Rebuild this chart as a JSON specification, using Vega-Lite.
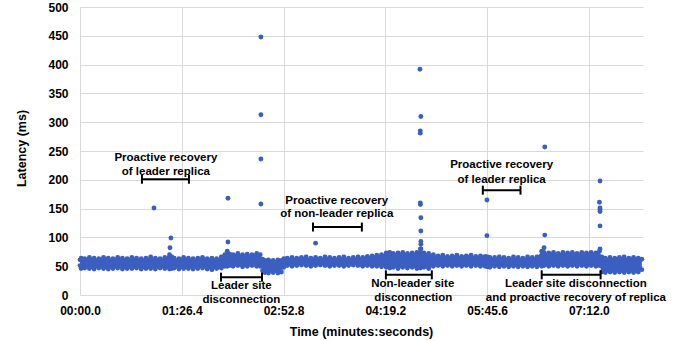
{
  "$schema": "https://vega.github.io/schema/vega-lite/v6.json",
  "autosize": {"type": "none"},
  "padding": {"left": 80, "top": 7, "right": 40, "bottom": 46},
  "width": 563,
  "height": 288,
  "background": "white",
  "config": {
    "view": {"stroke": null},
    "axis": {
      "labelFont": "Liberation Sans",
      "labelFontWeight": "bold",
      "labelFontSize": 12,
      "labelColor": "#000000",
      "labelOverlap": false,
      "labelFlush": false,
      "titleFont": "Liberation Sans",
      "titleFontWeight": "bold",
      "titleFontSize": 12.5,
      "titleColor": "#000000",
      "domain": false,
      "ticks": false,
      "tickSize": 0,
      "grid": true,
      "gridColor": "#d9d9d9",
      "gridWidth": 1
    }
  },
  "datasets": {
    "band": [
      {"t": 0, "hi": 61, "lo": 51},
      {"t": 1, "hi": 64, "lo": 46},
      {"t": 4, "hi": 63, "lo": 47},
      {"t": 8, "hi": 65, "lo": 46},
      {"t": 12, "hi": 64, "lo": 45},
      {"t": 16, "hi": 63, "lo": 47},
      {"t": 20, "hi": 65, "lo": 46},
      {"t": 24, "hi": 64, "lo": 45},
      {"t": 28, "hi": 63, "lo": 46},
      {"t": 32, "hi": 65, "lo": 47},
      {"t": 36, "hi": 64, "lo": 45},
      {"t": 40, "hi": 63, "lo": 46},
      {"t": 44, "hi": 65, "lo": 46},
      {"t": 48, "hi": 64, "lo": 47},
      {"t": 52, "hi": 63, "lo": 45},
      {"t": 56, "hi": 64, "lo": 46},
      {"t": 60, "hi": 66, "lo": 46},
      {"t": 64, "hi": 64, "lo": 45},
      {"t": 68, "hi": 63, "lo": 47},
      {"t": 72, "hi": 65, "lo": 46},
      {"t": 76, "hi": 70, "lo": 45},
      {"t": 78, "hi": 66, "lo": 46},
      {"t": 80, "hi": 64, "lo": 47},
      {"t": 84, "hi": 63, "lo": 45},
      {"t": 88, "hi": 65, "lo": 46},
      {"t": 92, "hi": 64, "lo": 46},
      {"t": 96, "hi": 63, "lo": 45},
      {"t": 100, "hi": 64, "lo": 46},
      {"t": 104, "hi": 65, "lo": 47},
      {"t": 108, "hi": 63, "lo": 45},
      {"t": 112, "hi": 64, "lo": 44},
      {"t": 116, "hi": 63, "lo": 46},
      {"t": 120, "hi": 66, "lo": 47},
      {"t": 123, "hi": 70, "lo": 50},
      {"t": 125, "hi": 76, "lo": 50},
      {"t": 127, "hi": 71, "lo": 51},
      {"t": 130, "hi": 70, "lo": 50},
      {"t": 134, "hi": 72, "lo": 51},
      {"t": 138, "hi": 70, "lo": 49},
      {"t": 142, "hi": 71, "lo": 50},
      {"t": 146, "hi": 70, "lo": 51},
      {"t": 150, "hi": 72, "lo": 50},
      {"t": 153, "hi": 70, "lo": 50},
      {"t": 155, "hi": 62, "lo": 42},
      {"t": 157, "hi": 60, "lo": 39},
      {"t": 160, "hi": 61, "lo": 38},
      {"t": 164, "hi": 60, "lo": 39},
      {"t": 168, "hi": 61, "lo": 38},
      {"t": 171, "hi": 60, "lo": 40},
      {"t": 173, "hi": 63, "lo": 48},
      {"t": 176, "hi": 64, "lo": 51},
      {"t": 180, "hi": 65, "lo": 50},
      {"t": 184, "hi": 64, "lo": 51},
      {"t": 188, "hi": 65, "lo": 52},
      {"t": 192, "hi": 66, "lo": 51},
      {"t": 196, "hi": 64, "lo": 50},
      {"t": 200, "hi": 65, "lo": 51},
      {"t": 204, "hi": 64, "lo": 52},
      {"t": 208, "hi": 66, "lo": 51},
      {"t": 212, "hi": 65, "lo": 50},
      {"t": 216, "hi": 64, "lo": 51},
      {"t": 220, "hi": 65, "lo": 51},
      {"t": 224, "hi": 66, "lo": 50},
      {"t": 228, "hi": 64, "lo": 51},
      {"t": 232, "hi": 65, "lo": 52},
      {"t": 236, "hi": 66, "lo": 51},
      {"t": 240, "hi": 65, "lo": 50},
      {"t": 244, "hi": 67, "lo": 51},
      {"t": 248, "hi": 68, "lo": 50},
      {"t": 252, "hi": 69, "lo": 50},
      {"t": 256, "hi": 70, "lo": 49},
      {"t": 260, "hi": 73, "lo": 48},
      {"t": 263, "hi": 74, "lo": 47},
      {"t": 266, "hi": 72, "lo": 48},
      {"t": 270, "hi": 73, "lo": 46},
      {"t": 274, "hi": 74, "lo": 48},
      {"t": 278, "hi": 72, "lo": 47},
      {"t": 282, "hi": 73, "lo": 48},
      {"t": 286, "hi": 74, "lo": 46},
      {"t": 289, "hi": 80, "lo": 47},
      {"t": 292, "hi": 73, "lo": 48},
      {"t": 296, "hi": 72, "lo": 46},
      {"t": 300, "hi": 70, "lo": 50},
      {"t": 304, "hi": 68, "lo": 51},
      {"t": 308, "hi": 69, "lo": 50},
      {"t": 312, "hi": 67, "lo": 51},
      {"t": 316, "hi": 68, "lo": 50},
      {"t": 320, "hi": 69, "lo": 51},
      {"t": 324, "hi": 67, "lo": 50},
      {"t": 328, "hi": 68, "lo": 51},
      {"t": 332, "hi": 69, "lo": 50},
      {"t": 336, "hi": 67, "lo": 51},
      {"t": 340, "hi": 68, "lo": 50},
      {"t": 344, "hi": 67, "lo": 50},
      {"t": 346, "hi": 66, "lo": 49},
      {"t": 348, "hi": 65, "lo": 48},
      {"t": 352, "hi": 65, "lo": 50},
      {"t": 356, "hi": 66, "lo": 49},
      {"t": 360, "hi": 65, "lo": 50},
      {"t": 364, "hi": 64, "lo": 49},
      {"t": 368, "hi": 66, "lo": 50},
      {"t": 372, "hi": 65, "lo": 49},
      {"t": 376, "hi": 64, "lo": 50},
      {"t": 380, "hi": 66, "lo": 49},
      {"t": 384, "hi": 65, "lo": 50},
      {"t": 388, "hi": 66, "lo": 49},
      {"t": 392, "hi": 76, "lo": 50},
      {"t": 394, "hi": 74, "lo": 51},
      {"t": 398, "hi": 73, "lo": 50},
      {"t": 402, "hi": 74, "lo": 51},
      {"t": 406, "hi": 72, "lo": 50},
      {"t": 410, "hi": 74, "lo": 51},
      {"t": 414, "hi": 73, "lo": 50},
      {"t": 418, "hi": 74, "lo": 51},
      {"t": 422, "hi": 72, "lo": 50},
      {"t": 426, "hi": 74, "lo": 51},
      {"t": 430, "hi": 73, "lo": 50},
      {"t": 434, "hi": 74, "lo": 51},
      {"t": 438, "hi": 73, "lo": 50},
      {"t": 441, "hi": 76, "lo": 51},
      {"t": 443, "hi": 66, "lo": 40},
      {"t": 446, "hi": 64, "lo": 39},
      {"t": 450, "hi": 65, "lo": 40},
      {"t": 454, "hi": 64, "lo": 39},
      {"t": 458, "hi": 65, "lo": 40},
      {"t": 462, "hi": 66, "lo": 39},
      {"t": 466, "hi": 64, "lo": 40},
      {"t": 470, "hi": 65, "lo": 39},
      {"t": 474, "hi": 64, "lo": 40},
      {"t": 477, "hi": 62, "lo": 44}
    ],
    "pts": [
      {"t": 62.8, "v": 151},
      {"t": 77.2, "v": 99},
      {"t": 76.4, "v": 82},
      {"t": 125.6, "v": 168},
      {"t": 125.6, "v": 92},
      {"t": 153.6, "v": 448},
      {"t": 153.6, "v": 313},
      {"t": 153.6, "v": 236},
      {"t": 153.6, "v": 158},
      {"t": 200, "v": 90},
      {"t": 288.6, "v": 392},
      {"t": 289.4, "v": 310},
      {"t": 288.9, "v": 285},
      {"t": 288.9, "v": 281},
      {"t": 288.9, "v": 160},
      {"t": 289, "v": 157},
      {"t": 289.4, "v": 134},
      {"t": 289.4, "v": 111},
      {"t": 289.4, "v": 93},
      {"t": 289.4, "v": 88},
      {"t": 289.4, "v": 80},
      {"t": 345.5, "v": 165},
      {"t": 345.5, "v": 103},
      {"t": 394.6, "v": 257},
      {"t": 394.6, "v": 104},
      {"t": 394, "v": 82},
      {"t": 441.5, "v": 198},
      {"t": 441, "v": 161},
      {"t": 441.5, "v": 151},
      {"t": 441.5, "v": 148},
      {"t": 441.5, "v": 145},
      {"t": 441.5, "v": 120},
      {"t": 441.5, "v": 80}
    ],
    "ann": [
      {"t": 72.9, "v": 238, "label": "Proactive recovery"},
      {"t": 72.9, "v": 213, "label": "of leader replica"},
      {"t": 137, "v": 16, "label": "Leader site"},
      {"t": 137, "v": -8, "label": "disconnection"},
      {"t": 218, "v": 163, "label": "Proactive recovery"},
      {"t": 218, "v": 140, "label": "of non-leader replica"},
      {"t": 282.5, "v": 19, "label": "Non-leader site"},
      {"t": 283, "v": -5, "label": "disconnection"},
      {"t": 358, "v": 226, "label": "Proactive recovery"},
      {"t": 358, "v": 200, "label": "of leader replica"},
      {"t": 421, "v": 19, "label": "Leader site disconnection"},
      {"t": 421, "v": -5, "label": "and proactive recovery of replica"}
    ],
    "brk": [
      {"t": 52.6, "t2": 92.5, "v": 201},
      {"t": 119.7, "t2": 154.5, "v": 31},
      {"t": 197.8, "t2": 239.3, "v": 118},
      {"t": 259.7, "t2": 298.7, "v": 35},
      {"t": 342, "t2": 374, "v": 182},
      {"t": 392, "t2": 442, "v": 35}
    ]
  },
  "encoding": {
    "x": {"field": "t", "type": "quantitative",
      "scale": {"domain": [0, 478], "nice": false, "zero": false},
      "axis": {
        "values": [0, 86.4, 172.8, 259.2, 345.6, 432],
        "labelPadding": 10,
        "labelExpr": "(floor(datum.value/60) < 10 ? '0' : '') + floor(datum.value/60) + ':' + ((datum.value % 60) < 9.95 ? '0' : '') + format(datum.value % 60, '.1f')",
        "title": "Time (minutes:seconds)",
        "titleX": 281,
        "titleY": 36,
        "titleBaseline": "middle"
      }
    },
    "y": {"field": "v", "type": "quantitative",
      "scale": {"domain": [0, 500], "nice": false, "zero": true},
      "axis": {
        "values": [0, 50, 100, 150, 200, 250, 300, 350, 400, 450, 500],
        "tickCount": 11,
        "labelPadding": 12,
        "title": "Latency (ms)",
        "titleX": -59,
        "titleY": 141,
        "titleAngle": -90,
        "titleBaseline": "middle",
        "titleAlign": "center"
      }
    }
  },
  "layer": [
    {
      "data": {"name": "band"},
      "mark": {"type": "area", "color": "#3b5fc0", "opacity": 1},
      "encoding": {
        "y": {"field": "lo", "type": "quantitative"},
        "y2": {"field": "hi"}
      }
    },
    {
      "data": {"name": "band"},
      "mark": {"type": "circle", "color": "#3b5fc0", "opacity": 1, "size": 24},
      "encoding": {
        "y": {"field": "hi", "type": "quantitative"}
      }
    },
    {
      "data": {"name": "band"},
      "mark": {"type": "circle", "color": "#3b5fc0", "opacity": 1, "size": 24},
      "encoding": {
        "y": {"field": "lo", "type": "quantitative"}
      }
    },
    {
      "data": {"name": "pts"},
      "mark": {"type": "circle", "color": "#3b5fc0", "opacity": 1, "size": 24}
    },
    {
      "data": {"name": "brk"},
      "mark": {"type": "rule", "color": "#000000", "strokeWidth": 2},
      "encoding": {
        "x2": {"field": "t2"}
      }
    },
    {
      "data": {"name": "brk"},
      "mark": {"type": "tick", "orient": "vertical", "color": "#000000", "thickness": 2, "size": 9, "opacity": 1}
    },
    {
      "data": {"name": "brk"},
      "mark": {"type": "tick", "orient": "vertical", "color": "#000000", "thickness": 2, "size": 9, "opacity": 1},
      "encoding": {
        "x": {"field": "t2", "type": "quantitative"}
      }
    },
    {
      "data": {"name": "ann"},
      "mark": {"type": "text", "font": "Liberation Sans", "fontWeight": "bold", "fontSize": 11.5, "color": "#000000", "align": "center", "baseline": "middle"},
      "encoding": {
        "text": {"field": "label"}
      }
    }
  ]
}
